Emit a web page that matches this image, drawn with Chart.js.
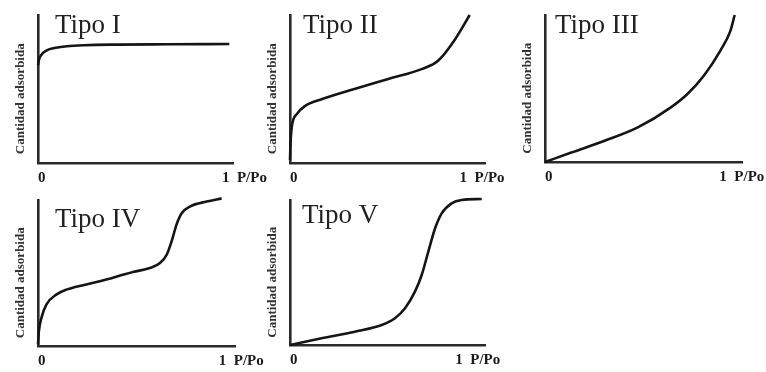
<!DOCTYPE html>
<html lang="es">
<head>
<meta charset="utf-8">
<title>Tipos de isotermas de adsorción</title>
<script src="https://cdn.jsdelivr.net/npm/chart.js@4.4.1/dist/chart.umd.min.js"></script>
<style>
  html, body { margin: 0; padding: 0; background: #fff; }
  #stage { position: relative; width: 766px; height: 372px; overflow: hidden; background: #fff; }
  #stage canvas { position: absolute; }
</style>
</head>
<body>
<div id="stage"></div>
<script>
const panelTitles = ['Tipo I', 'Tipo II', 'Tipo III', 'Tipo IV', 'Tipo V'];
const yAxisTitle = 'Cantidad adsorbida';
const xTickValues = [0, 1];
const xTickLabels = ['0', '1  P/Po'];

// curves: x in P/Po, y as a share of the axis height
const tipoIx = [0, 0.005, 0.018, 0.046, 0.083, 0.157, 0.25, 0.434, 0.71, 1.04];
const tipoIy = [0.66, 0.697, 0.73, 0.76, 0.775, 0.789, 0.796, 0.8, 0.802, 0.804];

const tipoIIx = [0, 0.002, 0.01, 0.04, 0.09, 0.19, 0.38, 0.58, 0.78, 0.875, 0.97, 1.06];
const tipoIIy = [0.02, 0.102, 0.239, 0.33, 0.386, 0.432, 0.5, 0.568, 0.636, 0.693, 0.83, 1.0];

const tipoIIIx = [0, 0.151, 0.342, 0.532, 0.722, 0.817, 0.912, 1.007, 1.063, 1.088];
const tipoIIIy = [0, 0.064, 0.144, 0.235, 0.372, 0.463, 0.589, 0.76, 0.89, 1.0];

const tipoIVx = [0, 0.005, 0.019, 0.046, 0.101, 0.157, 0.342, 0.526, 0.619, 0.675, 0.712, 0.739, 0.766, 0.795, 0.84, 0.933, 1.016];
const tipoIVy = [0.011, 0.102, 0.193, 0.284, 0.352, 0.386, 0.443, 0.507, 0.534, 0.568, 0.625, 0.716, 0.83, 0.909, 0.955, 0.989, 1.011];

const tipoVx = [0, 0.191, 0.393, 0.555, 0.635, 0.696, 0.756, 0.797, 0.837, 0.878, 0.918, 0.978, 1.038, 1.16];
const tipoVy = [0, 0.046, 0.092, 0.138, 0.184, 0.253, 0.368, 0.483, 0.644, 0.805, 0.908, 0.977, 1.0, 1.007];

const SERIF = "'Liberation Serif', 'Times New Roman', serif";
const INK = '#151515';

// plot area of each panel in page pixels, plus where its "Tipo" label sits
const panels = [
  { xs: tipoIx, ys: tipoIy, xMax: 1.06, area: [38, 15, 233, 163], label: [17, 18] },
  { xs: tipoIIx, ys: tipoIIy, xMax: 1.15, area: [290, 15, 485, 163], label: [13, 18] },
  { xs: tipoIIIx, ys: tipoIIIy, xMax: 1.13, area: [545, 15, 742, 162], label: [10, 18] },
  { xs: tipoIVx, ys: tipoIVy, xMax: 1.09, area: [38, 200, 235, 346], label: [17, 27] },
  { xs: tipoVx, ys: tipoVy, xMax: 1.18, area: [290, 200, 485, 345], label: [12, 23] },
];

const Y_TITLE = { size: 13, padTop: 2, padBottom: 10 };
const X_TICK = { size: 15, padding: 6 };
const PAD = { left: 38, top: 8, right: 48, bottom: 2 };

const panelTitle = {
  id: 'panelTitle',
  afterDraw(chart, args, opts) {
    const { ctx, chartArea } = chart;
    ctx.save();
    ctx.font = `27px ${SERIF}`;
    ctx.fillStyle = '#222';
    ctx.textAlign = 'left';
    ctx.textBaseline = 'alphabetic';
    ctx.fillText(opts.text, chartArea.left + opts.dx, chartArea.top + opts.dy);
    ctx.restore();
  },
};

const toPoints = (xs, ys) => xs.map((x, i) => ({ x, y: ys[i] }));

function makePanel(stage, panel, title) {
  const [l, t, r, b] = panel.area;
  const yAxisW = Y_TITLE.size * 1.2 + Y_TITLE.padTop + Y_TITLE.padBottom;
  // chart.js reserves the tick padding on both sides of the labels
  const xAxisH = X_TICK.size * 1.2 + X_TICK.padding * 2;

  const canvas = document.createElement('canvas');
  const left = l - PAD.left;
  const top = t - PAD.top;
  canvas.width = r - left + PAD.right;
  canvas.height = Math.round(b - top + xAxisH + PAD.bottom);
  canvas.style.left = `${left}px`;
  canvas.style.top = `${top}px`;
  stage.appendChild(canvas);

  return new Chart(canvas.getContext('2d'), {
    type: 'scatter',
    data: {
      datasets: [
        {
          data: toPoints(panel.xs, panel.ys),
          showLine: true,
          borderColor: INK,
          borderWidth: 2.6,
          pointRadius: 0,
          cubicInterpolationMode: 'monotone',
          clip: false,
        },
      ],
    },
    options: {
      responsive: false,
      animation: false,
      devicePixelRatio: 1,
      layout: {
        padding: {
          left: PAD.left - yAxisW,
          top: PAD.top,
          right: PAD.right,
          bottom: PAD.bottom,
        },
      },
      scales: {
        x: {
          type: 'linear',
          min: 0,
          max: panel.xMax,
          grid: { display: false, drawTicks: false },
          border: { display: true, color: '#2a2a2a', width: 2.6 },
          afterBuildTicks: (scale) => {
            scale.ticks = xTickValues.map((value) => ({ value }));
          },
          ticks: {
            align: 'start',
            padding: X_TICK.padding,
            color: '#1a1a1a',
            maxRotation: 0,
            font: { family: SERIF, size: X_TICK.size, weight: 'bold' },
            callback: (value) => xTickLabels[xTickValues.indexOf(value)] ?? '',
          },
        },
        y: {
          type: 'linear',
          min: 0,
          max: 1,
          grid: { display: false, drawTicks: false },
          border: { display: true, color: '#2a2a2a', width: 2.6 },
          ticks: { display: false },
          title: {
            display: true,
            // trailing spaces nudge the label down, as in the source figure
            text: yAxisTitle + '\u00a0\u00a0\u00a0\u00a0\u00a0\u00a0',
            color: '#333',
            padding: { top: Y_TITLE.padTop, bottom: Y_TITLE.padBottom },
            font: { family: SERIF, size: Y_TITLE.size, weight: 'bold' },
          },
        },
      },
      plugins: {
        legend: { display: false },
        tooltip: { enabled: false },
        panelTitle: { text: title, dx: panel.label[0], dy: panel.label[1] },
      },
    },
    plugins: [panelTitle],
  });
}

document.addEventListener('DOMContentLoaded', () => {
  const stage = document.getElementById('stage');
  panels.forEach((panel, i) => makePanel(stage, panel, panelTitles[i]));
});
</script>
</body>
</html>
